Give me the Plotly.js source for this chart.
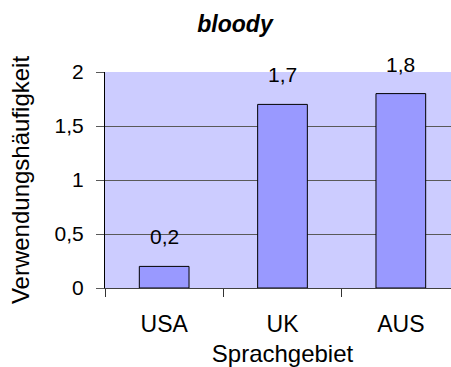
<!DOCTYPE html>
<html>
<head>
<meta charset="utf-8">
<script src="https://cdn.plot.ly/plotly-3.0.1.min.js"></script>
<style>
  html, body { margin: 0; padding: 0; overflow: hidden; background: #fff; }
  #chart { width: 461px; height: 367px; }
</style>
</head>
<body>
<div id="chart"></div>
<script>
// Usage frequency of "bloody" by language region
const regions = ['USA', 'UK', 'AUS'];
const frequency = [0.2, 1.7, 1.8];
const yTicks = [0, 0.5, 1, 1.5, 2];

const FONT = 'Liberation Sans, Arial, sans-serif';
const fmt = v => String(v).replace('.', ',');

const trace = {
  type: 'bar',
  x: regions,
  y: frequency,
  width: 0.42,
  marker: { color: '#9999ff', line: { color: '#000000', width: 1 } },
  hoverinfo: 'skip'
};

// value labels above each bar
const valueLabels = regions.map((r, i) => ({
  x: r, y: frequency[i], xref: 'x', yref: 'y',
  text: fmt(frequency[i]),
  showarrow: false, yanchor: 'bottom', yshift: 16,
  font: { family: FONT, size: 21, color: '#000' }
}));

const layout = {
  width: 461, height: 367,
  margin: { l: 105, r: 1, t: 72, b: 79 },
  paper_bgcolor: '#ffffff',
  plot_bgcolor: '#ccccff',
  separators: ',.',
  showlegend: false,
  font: { family: FONT, size: 21, color: '#000' },
  title: {
    text: '<b><i>bloody</i></b>',
    font: { family: FONT, size: 23, color: '#000' },
    xref: 'container', x: 235 / 461, xanchor: 'center',
    yref: 'container', y: 1 - 24 / 367, yanchor: 'middle'
  },
  xaxis: {
    type: 'category',
    range: [-0.5, 2.5],
    tickson: 'boundaries',
    ticks: 'outside', ticklen: 8, tickcolor: '#333', tickwidth: 1,
    ticklabelstandoff: 15,
    showgrid: false,
    showline: true, linecolor: '#404040', linewidth: 1,
    tickfont: { family: FONT, size: 23 },
    title: { text: 'Sprachgebiet', font: { family: FONT, size: 24 }, standoff: 11 }
  },
  yaxis: {
    range: [0, 2],
    tickvals: yTicks,
    ticks: 'outside', ticklen: 8, tickcolor: '#595959', tickwidth: 1,
    ticklabelstandoff: 8,
    showgrid: true, gridcolor: '#595959', gridwidth: 1,
    zeroline: false,
    showline: true, linecolor: '#000000', linewidth: 1,
    tickfont: { family: FONT, size: 21 },
    title: { text: 'Verwendungshäufigkeit', font: { family: FONT, size: 24 }, standoff: 18 }
  },
  annotations: valueLabels
};

Plotly.newPlot('chart', [trace], layout, { staticPlot: true, displayModeBar: false });
</script>
</body>
</html>
